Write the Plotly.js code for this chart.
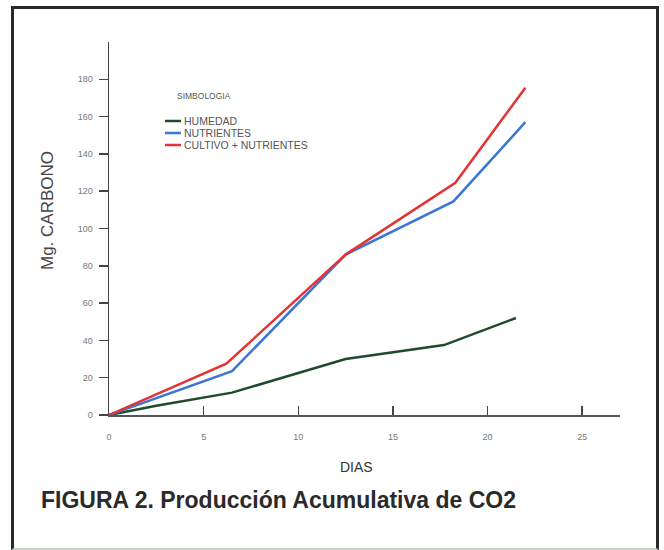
<!DOCTYPE html>
<html>
<head>
<meta charset="utf-8">
<script src="https://cdn.plot.ly/plotly-3.0.1.min.js"></script>
<style>
html,body{margin:0;padding:0;background:#fff;}
#wrap{position:relative;width:664px;height:550px;overflow:hidden;}
#chart{width:664px;height:550px;}
#frame{position:absolute;left:11px;top:6px;width:648px;height:544px;box-sizing:border-box;border:3px solid #2a2a2a;border-bottom:2px solid #c8d0cc;pointer-events:none;}
</style>
</head>
<body>
<div id="wrap"><div id="chart"></div><div id="frame"></div></div>
<script>
// Data
const daysHumedad = [0, 2.5, 6.5, 12.5, 17.7, 21.5];
const humedad     = [0, 5, 12, 30, 37.5, 52];
const daysNutrientes = [0, 6.5, 12.5, 18.2, 22];
const nutrientes     = [0, 23.5, 86, 114.5, 157];
const daysCultivo = [0, 6.2, 12.5, 18.3, 22];
const cultivo     = [0, 27.5, 86, 124.5, 175.5];

const seriesNames = ['HUMEDAD', 'NUTRIENTES', 'CULTIVO + NUTRIENTES'];
const seriesColors = ['#1f4a2c', '#3a76d6', '#e23434'];
const xTicks = [0, 5, 10, 15, 20, 25];
const yTicks = [0, 20, 40, 60, 80, 100, 120, 140, 160, 180];

const traces = [
  {x: daysHumedad, y: humedad, name: seriesNames[0], mode: 'lines', line: {color: seriesColors[0], width: 2.5}},
  {x: daysNutrientes, y: nutrientes, name: seriesNames[1], mode: 'lines', line: {color: seriesColors[1], width: 2.5}},
  {x: daysCultivo, y: cultivo, name: seriesNames[2], mode: 'lines', line: {color: seriesColors[2], width: 2.5}}
];

// pixel helpers for paper coordinates (plot area: x 109..620, y 42..415)
const L = 109, R = 620, T = 42, B = 415;
const px = v => (v - L) / (R - L);
const py = v => (B - v) / (B - T);

const legendFont = {family: 'Liberation Sans, Arial, sans-serif', size: 10.5, color: '#555'};
const annotations = [
  {text: 'Mg. CARBONO', xref: 'paper', yref: 'paper', x: px(47), y: py(211), xanchor: 'center', yanchor: 'middle', textangle: -90, showarrow: false,
   font: {family: 'Liberation Sans, Arial, sans-serif', size: 17, color: '#444'}},
  {text: 'DIAS', xref: 'paper', yref: 'paper', x: px(356), y: py(467), xanchor: 'center', yanchor: 'middle', showarrow: false,
   font: {family: 'Liberation Sans, Arial, sans-serif', size: 14, color: '#333'}},
  {text: '<b>FIGURA 2. Producción Acumulativa de CO2</b>', xref: 'paper', yref: 'paper', x: px(39), y: py(500), xanchor: 'left', yanchor: 'middle', showarrow: false,
   font: {family: 'Liberation Sans, Arial, sans-serif', size: 23, color: '#2a2a2a'}},
  {text: 'SIMBOLOGIA', xref: 'paper', yref: 'paper', x: px(175), y: py(96), xanchor: 'left', yanchor: 'middle', showarrow: false,
   font: {family: 'Liberation Sans, Arial, sans-serif', size: 8.5, color: '#555'}}
];
const legendY = [121, 133, 145];
const shapes = [];
seriesNames.forEach((n, i) => {
  annotations.push({text: n, xref: 'paper', yref: 'paper', x: px(182), y: py(legendY[i]), xanchor: 'left', yanchor: 'middle', showarrow: false, font: legendFont});
  shapes.push({type: 'line', xref: 'paper', yref: 'paper', x0: px(165), x1: px(181), y0: py(legendY[i]), y1: py(legendY[i]), line: {color: seriesColors[i], width: 2.5}});
});

const tickFont = {family: 'Liberation Sans, Arial, sans-serif', size: 9, color: '#777'};
const layout = {
  width: 664, height: 550,
  margin: {l: L, r: 664 - R, t: T, b: 550 - B, pad: 0},
  paper_bgcolor: '#fff', plot_bgcolor: '#fff',
  showlegend: false,
  font: {family: 'Liberation Sans, Arial, sans-serif'},
  xaxis: {range: [0, 27], tickvals: xTicks, ticktext: xTicks.map(String), ticks: 'inside', ticklen: 9, tickwidth: 1.5, tickcolor: '#444',
          showgrid: false, zeroline: false, showline: true, linecolor: '#555', linewidth: 2, tickfont: tickFont, ticklabelstandoff: 12},
  yaxis: {range: [0, 200], tickvals: yTicks, ticktext: yTicks.map(String), ticks: 'outside', ticklen: 9, tickwidth: 1.5, tickcolor: '#444',
          showgrid: false, zeroline: false, showline: true, linecolor: '#444', linewidth: 1.5, tickfont: tickFont, ticklabelstandoff: 4},
  annotations: annotations,
  shapes: shapes
};
Plotly.newPlot('chart', traces, layout, {displayModeBar: false, staticPlot: true});
</script>
</body>
</html>
